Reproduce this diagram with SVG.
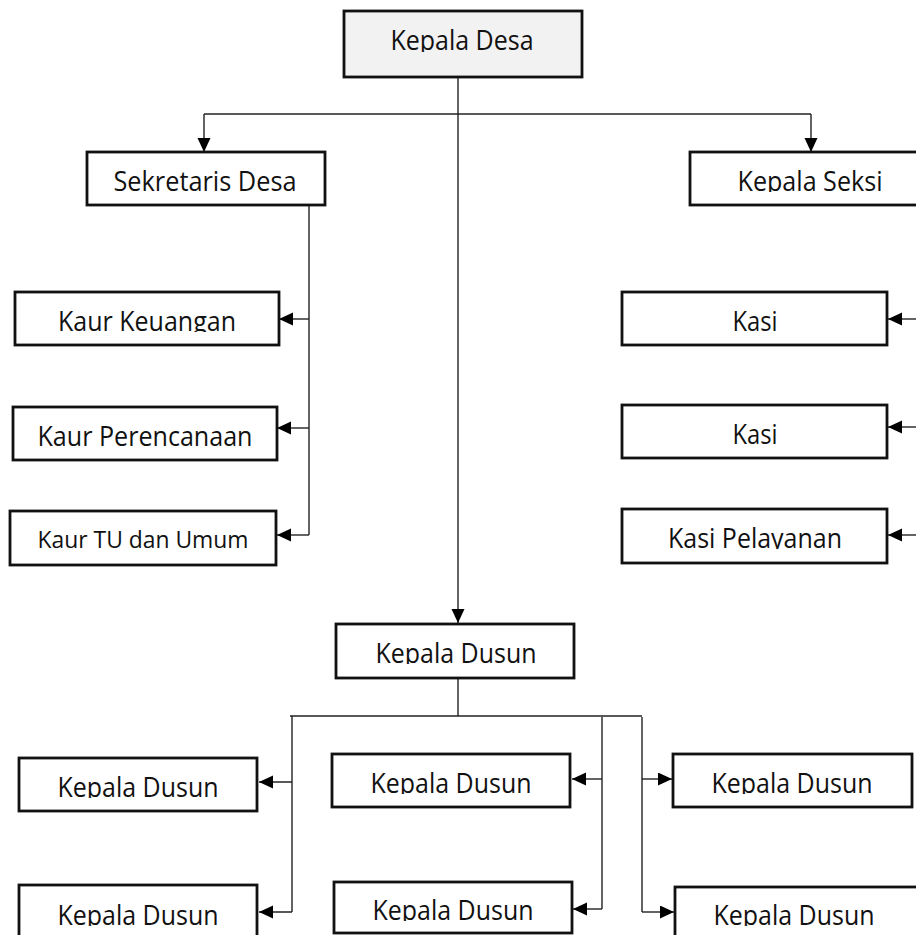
<svg xmlns="http://www.w3.org/2000/svg" width="916" height="935" viewBox="0 0 916 935">
<style>
.box{fill:#ffffff;stroke:#111111;stroke-width:2.8}
.top{fill:#f2f2f2}
.lbl{font-family:"Open Sans","Noto Sans",sans-serif;font-size:27px;fill:#111111;text-anchor:middle}
.sm{font-size:24.5px}
.ln{fill:none;stroke:#222222;stroke-width:1.4}
.ar{fill:none;stroke:#222222;stroke-width:1.4;marker-end:url(#ah)}
</style>
<defs>
<marker id="ah" markerUnits="userSpaceOnUse" markerWidth="16" markerHeight="14" refX="14" refY="6.5" orient="auto">
<path d="M0,0 L14,6.5 L0,13 Z" fill="#000000"/>
</marker>
<clipPath id="c1"><rect x="344" y="11" width="238" height="41"/></clipPath>
<clipPath id="c3"><rect x="690" y="152" width="230" height="40"/></clipPath>
<clipPath id="c4"><rect x="15" y="292" width="264" height="40"/></clipPath>
<clipPath id="c9"><rect x="622" y="509" width="265" height="40"/></clipPath>
<clipPath id="c10"><rect x="336" y="624" width="238" height="40"/></clipPath>
<clipPath id="c11"><rect x="19" y="758" width="238" height="40"/></clipPath>
<clipPath id="c12"><rect x="19" y="885" width="238" height="41"/></clipPath>
<clipPath id="c13"><rect x="332" y="754" width="238" height="40"/></clipPath>
<clipPath id="c14"><rect x="334" y="882" width="238" height="39"/></clipPath>
<clipPath id="c15"><rect x="673" y="754" width="239" height="40"/></clipPath>
<clipPath id="c16"><rect x="675" y="887" width="250" height="39"/></clipPath>
</defs>

<g id="connectors">
<path class="ar" d="M458,77 V623"/>
<path class="ln" d="M204,114 H811"/>
<path class="ar" d="M204,114 V152"/>
<path class="ar" d="M811,114 V152"/>
<path class="ln" d="M309,205 V535"/>
<path class="ar" d="M309,319 H279"/>
<path class="ar" d="M309,428 H277"/>
<path class="ar" d="M309,535 H277"/>
<path class="ar" d="M918,319 H888"/>
<path class="ar" d="M918,427 H888"/>
<path class="ar" d="M918,535 H888"/>
<path class="ln" d="M458,678 V716"/>
<path class="ln" d="M290,716 H642"/>
<path class="ln" d="M292,716 V912"/>
<path class="ar" d="M292,782 H259"/>
<path class="ar" d="M292,912 H259"/>
<path class="ln" d="M602,717 V909"/>
<path class="ar" d="M602,779 H572"/>
<path class="ar" d="M602,909 H573"/>
<path class="ln" d="M642,717 V912"/>
<path class="ar" d="M642,779 H672"/>
<path class="ar" d="M642,912 H674"/>
</g>

<g id="kepala-desa">
<rect class="box top" x="344" y="11" width="238" height="66"/>
<text class="lbl" x="462" y="50" textLength="143" lengthAdjust="spacingAndGlyphs" clip-path="url(#c1)">Kepala Desa</text>
</g>
<g id="sekretaris-desa">
<rect class="box" x="87" y="152" width="238" height="53"/>
<text class="lbl" x="205" y="191" textLength="183" lengthAdjust="spacingAndGlyphs">Sekretaris Desa</text>
</g>
<g id="kepala-seksi">
<rect class="box" x="690" y="152" width="240" height="53"/>
<text class="lbl" x="810" y="191" textLength="145" lengthAdjust="spacingAndGlyphs" clip-path="url(#c3)">Kepala Seksi</text>
</g>
<g id="kaur-keuangan">
<rect class="box" x="15" y="292" width="264" height="53"/>
<text class="lbl" x="147" y="331" textLength="178" lengthAdjust="spacingAndGlyphs" clip-path="url(#c4)">Kaur Keuangan</text>
</g>
<g id="kaur-perencanaan">
<rect class="box" x="13" y="407" width="264" height="53"/>
<text class="lbl" x="145" y="446" textLength="215" lengthAdjust="spacingAndGlyphs">Kaur Perencanaan</text>
</g>
<g id="kaur-tu">
<rect class="box" x="10" y="511" width="266" height="54"/>
<text class="lbl sm" x="143" y="548" textLength="211" lengthAdjust="spacingAndGlyphs">Kaur TU dan Umum</text>
</g>
<g id="kasi-1">
<rect class="box" x="622" y="292" width="265" height="53"/>
<text class="lbl" x="755" y="331" textLength="45" lengthAdjust="spacingAndGlyphs">Kasi</text>
</g>
<g id="kasi-2">
<rect class="box" x="622" y="405" width="265" height="53"/>
<text class="lbl" x="755" y="444" textLength="45" lengthAdjust="spacingAndGlyphs">Kasi</text>
</g>
<g id="kasi-pelayanan">
<rect class="box" x="622" y="509" width="265" height="54"/>
<text class="lbl" x="755" y="548" textLength="174" lengthAdjust="spacingAndGlyphs" clip-path="url(#c9)">Kasi Pelayanan</text>
</g>
<g id="kepala-dusun">
<rect class="box" x="336" y="624" width="238" height="54"/>
<text class="lbl" x="456" y="663" textLength="161" lengthAdjust="spacingAndGlyphs" clip-path="url(#c10)">Kepala Dusun</text>
</g>
<g id="dusun-l1">
<rect class="box" x="19" y="758" width="238" height="53"/>
<text class="lbl" x="138" y="797" textLength="161" lengthAdjust="spacingAndGlyphs" clip-path="url(#c11)">Kepala Dusun</text>
</g>
<g id="dusun-l2">
<rect class="box" x="19" y="885" width="238" height="60"/>
<text class="lbl" x="138" y="925" textLength="161" lengthAdjust="spacingAndGlyphs" clip-path="url(#c12)">Kepala Dusun</text>
</g>
<g id="dusun-m1">
<rect class="box" x="332" y="754" width="238" height="53"/>
<text class="lbl" x="451" y="793" textLength="161" lengthAdjust="spacingAndGlyphs" clip-path="url(#c13)">Kepala Dusun</text>
</g>
<g id="dusun-m2">
<rect class="box" x="334" y="882" width="238" height="51"/>
<text class="lbl" x="453" y="920" textLength="161" lengthAdjust="spacingAndGlyphs" clip-path="url(#c14)">Kepala Dusun</text>
</g>
<g id="dusun-r1">
<rect class="box" x="673" y="754" width="239" height="53"/>
<text class="lbl" x="792" y="793" textLength="161" lengthAdjust="spacingAndGlyphs" clip-path="url(#c15)">Kepala Dusun</text>
</g>
<g id="dusun-r2">
<rect class="box" x="675" y="887" width="250" height="60"/>
<text class="lbl" x="794" y="925" textLength="161" lengthAdjust="spacingAndGlyphs" clip-path="url(#c16)">Kepala Dusun</text>
</g>
</svg>
